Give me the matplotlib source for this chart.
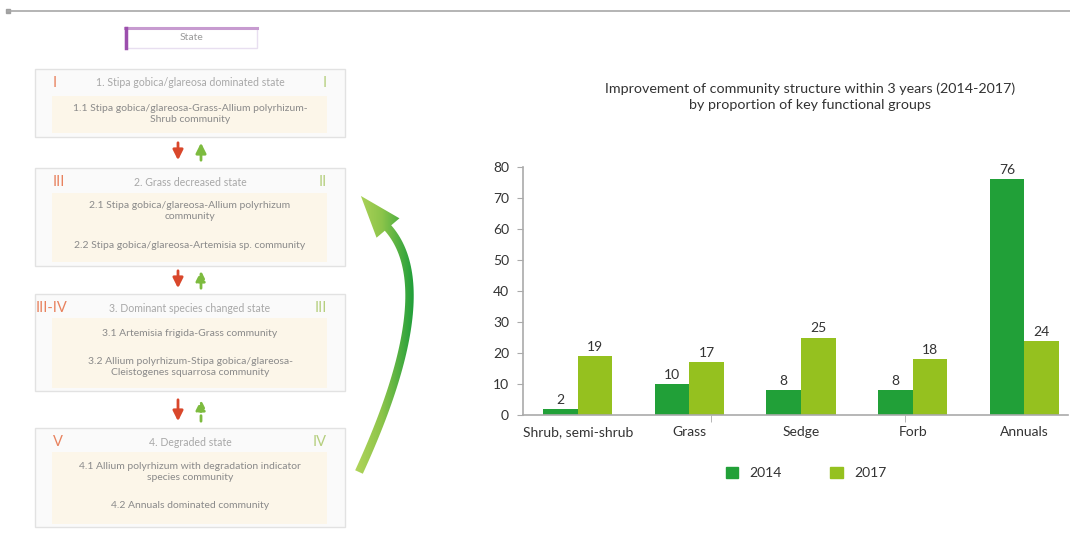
import numpy as np
import matplotlib
matplotlib.use('Agg')
import matplotlib.pyplot as plt
from matplotlib.patches import Rectangle, Polygon, Patch
from matplotlib.colors import LinearSegmentedColormap

plt.rcParams['font.family'] = ['Lato', 'DejaVu Sans']

# bar chart data
groups = ['Shrub, semi-shrub', 'Grass', 'Sedge', 'Forb', 'Annuals']
y2014 = [2, 10, 8, 8, 76]
y2017 = [19, 17, 25, 18, 24]
years = ['2014', '2017']
yticks = [0, 10, 20, 30, 40, 50, 60, 70, 80]

# state-and-transition diagram text
state_titles = ['1. Stipa gobica/glareosa dominated state',
                '2. Grass decreased state',
                '3. Dominant species changed state',
                '4. Degraded state']
left_marks = ['I', 'III', 'III-IV', 'V']
right_marks = ['I', 'II', 'III', 'IV']
communities = [['1.1 Stipa gobica/glareosa-Grass-Allium polyrhizum-\nShrub community'],
               ['2.1 Stipa gobica/glareosa-Allium polyrhizum\ncommunity',
                '2.2 Stipa gobica/glareosa-Artemisia sp. community'],
               ['3.1 Artemisia frigida-Grass community',
                '3.2 Allium polyrhizum-Stipa gobica/glareosa-\nCleistogenes squarrosa community'],
               ['4.1 Allium polyrhizum with degradation indicator\nspecies community',
                '4.2 Annuals dominated community']]

c2014 = '#21a038'
c2017 = '#95c11f'
txt = '#333333'

fig = plt.figure(figsize=(10.7, 5.36), dpi=100)

# overlay in pixel units for the diagram
ov = fig.add_axes([0, 0, 1, 1])
ov.set_xlim(0, 1070)
ov.set_ylim(536, 0)
ov.axis('off')

ov.plot([8, 1070], [11, 11], color='#a8a8a8', lw=1.2)
ov.add_patch(Rectangle((6, 9), 4, 4, color='#a0a0a0'))

# "State" key box
ov.add_patch(Rectangle((125, 28), 132, 20, facecolor='white', edgecolor='#e8dff0', lw=1))
ov.plot([125, 257], [28, 28], color='#c79bd0', lw=2.2)
ov.plot([126, 126], [28, 48], color='#9c4fad', lw=2.5)
ov.text(191, 37, 'State', ha='center', va='center', fontsize=7.5, color='#9a9a9a')

boxes = [(69, 137, 96, 133), (168, 266, 193, 262), (294, 391, 318, 388), (428, 527, 452, 524)]
line_y = [[114], [211, 246], [333, 367], [472, 506]]

for i, (top, bot, ctop, cbot) in enumerate(boxes):
    ov.add_patch(Rectangle((35, top), 310, bot - top, facecolor='#fafafa', edgecolor='#e2e2e2', lw=1))
    ov.add_patch(Rectangle((52, ctop), 275, cbot - ctop, facecolor='#fcf6e9', edgecolor='none'))
    hy = top + 14
    ov.text(190, hy, state_titles[i], ha='center', va='center', fontsize=7.6, color='#a8a8a8')
    ov.text(36 if i == 2 else 53, hy, left_marks[i], ha='left', va='center', fontsize=10.5,
            color='#e8825e')
    ov.text(327, hy, right_marks[i], ha='right', va='center', fontsize=10.5, color='#b5cf7e')
    for t, yy in zip(communities[i], line_y[i]):
        ov.text(190, yy, t, ha='center', va='center', fontsize=7.5, color='#8a8a8a',
                linespacing=1.4)

# transition arrows between states
for k, (top, bot) in enumerate([(140, 163), (268, 291), (397, 424)]):
    ov.annotate('', xy=(178, bot), xytext=(178, top),
                arrowprops=dict(arrowstyle='-|>,head_length=0.6,head_width=0.3', color='#d9472b', lw=2))
    ov.annotate('', xy=(201, top), xytext=(201, bot),
                arrowprops=dict(arrowstyle='-|>,head_length=0.6,head_width=0.3', color='#7dbb3f', lw=2,
                                linestyle='-' if k == 0 else (0, (2, 1.5))))

# curved recovery arrow with a green gradient
p0 = np.array([359.0, 472.0])
p2 = np.array([388.0, 228.0])
c = (4 * np.array([408.0, 320.0]) - p0 - p2) / 2
t = np.linspace(0, 1, 60)[:, None]
curve = (1 - t) ** 2 * p0 + 2 * t * (1 - t) * c + t ** 2 * p2
tan = np.gradient(curve, axis=0)
tan /= np.linalg.norm(tan, axis=1)[:, None]
nrm = np.column_stack([tan[:, 1], -tan[:, 0]])
shaft = np.vstack([curve + 4.2 * nrm, (curve - 4.2 * nrm)[::-1]])
d = tan[-1]
n = np.array([d[1], -d[0]])
tip = p2 + 42 * d
head = np.array([p2 + 15 * n, tip, p2 - 15 * n])
shape = np.vstack([shaft[:60], head[::-1] if np.dot(n, nrm[-1]) < 0 else head, shaft[60:]])
arrow = Polygon(shape, closed=True, facecolor='none', edgecolor='none')
ov.add_patch(arrow)
grad_cmap = LinearSegmentedColormap.from_list('g', ['#b9d85e', '#8cc44a', '#1f9e3a'])
img = ov.imshow(np.linspace(0, 1, 200)[None, :], cmap=grad_cmap, aspect='auto',
                extent=(350, 414, 480, 185), zorder=3)
img.set_clip_path(arrow)
ov.set_xlim(0, 1070)
ov.set_ylim(536, 0)

# bar chart
ax = fig.add_axes([523 / 1070, 1 - 415 / 536, (1068 - 523) / 1070, (415 - 167) / 536])
x = np.arange(len(groups))
w = 0.31
b1 = ax.bar(x - w / 2, y2014, w, color=c2014, label=years[0])
b2 = ax.bar(x + w / 2, y2017, w, color=c2017, label=years[1])
for bars, vals in [(b1, y2014), (b2, y2017)]:
    for b, v in zip(bars, vals):
        ax.text(b.get_x() + b.get_width() / 2, v + 1.0, str(v), ha='center', va='bottom',
                fontsize=10, color=txt)

ax.set_xlim(-0.49, 4.39)
ax.set_ylim(0, 80)
ax.set_yticks(yticks)
ax.set_xticks(x)
ax.set_xticklabels(groups, fontsize=10, color=txt)
ax.tick_params(axis='x', length=0, pad=8)
ax.set_xticks([1.19, 2.93], minor=True)
ax.tick_params(axis='x', which='minor', length=5, color='#aaaaaa')
ax.tick_params(axis='y', length=4, color='#aaaaaa', labelsize=10, labelcolor=txt, pad=6)
for s in ['top', 'right']:
    ax.spines[s].set_visible(False)
for s in ['left', 'bottom']:
    ax.spines[s].set_color('#aaaaaa')
    ax.spines[s].set_linewidth(1.2)
ax.patch.set_alpha(0)

fig.text(810 / 1070, 1 - 89 / 536, 'Improvement of community structure within 3 years (2014-2017)',
         ha='center', va='center', fontsize=10.3, color=txt)
fig.text(810 / 1070, 1 - 105 / 536, 'by proportion of key functional groups',
         ha='center', va='center', fontsize=10.3, color=txt)

fig.legend(handles=[Patch(color=c2014), Patch(color=c2017)], labels=years,
           loc='center', bbox_to_anchor=(806 / 1070, 1 - 473 / 536), ncol=2, frameon=False,
           handlelength=0.9, handleheight=0.9, columnspacing=3.5, handletextpad=0.8,
           fontsize=10, labelcolor=txt)

fig.savefig('out.png', dpi=100)
